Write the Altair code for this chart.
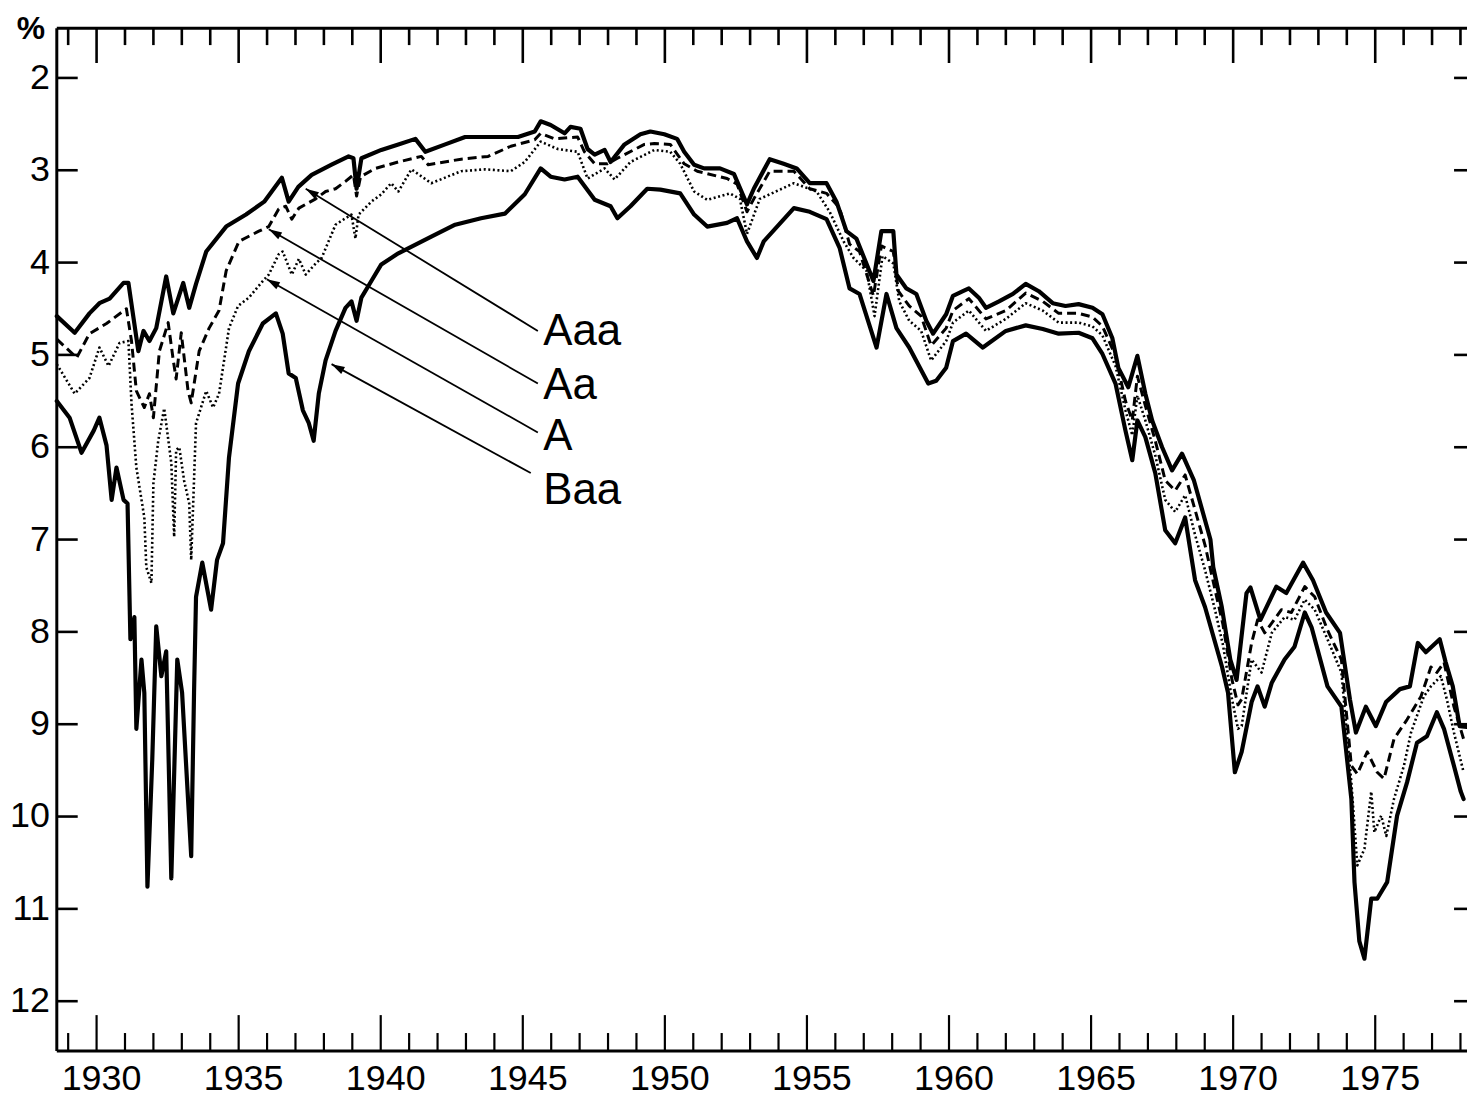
import altair as alt
import pandas as pd

# ---------------- data ----------------
aaa_year = [1928.6, 1929.23, 1929.75, 1930.1, 1930.46, 1930.95, 1931.12, 1931.3, 1931.47, 1931.65,
            1931.86, 1932.1, 1932.45, 1932.7, 1933.05, 1933.26, 1933.5, 1933.86, 1934.56, 1935.26,
            1935.9, 1936.52, 1936.76, 1937.1, 1937.57, 1938.27, 1938.87, 1939.04, 1939.15, 1939.32,
            1940.02, 1940.62, 1941.22, 1941.57, 1942.27, 1942.97, 1944.02, 1944.83, 1945.42, 1945.63,
            1945.98, 1946.47, 1946.68, 1947.03, 1947.28, 1947.53, 1947.88, 1948.09, 1948.58, 1949.14,
            1949.49, 1949.98, 1950.43, 1950.68, 1951.03, 1951.38, 1951.94, 1952.43, 1952.89, 1953.13,
            1953.69, 1954.18, 1954.64, 1955.1, 1955.69, 1956.04, 1956.39, 1956.74, 1957.34, 1957.62,
            1958.04, 1958.15, 1958.5, 1958.85, 1959.2, 1959.44, 1959.9, 1960.14, 1960.49, 1960.7,
            1961.05, 1961.3, 1961.76, 1962.25, 1962.7, 1963.16, 1963.65, 1964.1, 1964.56, 1965.05,
            1965.4, 1965.75, 1965.96, 1966.31, 1966.63, 1966.91, 1967.15, 1967.5, 1967.85, 1968.2,
            1968.62, 1969.2, 1969.3, 1969.6, 1969.9, 1970.12, 1970.47, 1970.61, 1970.96, 1971.52,
            1971.87, 1972.46, 1972.81, 1973.27, 1973.76, 1974.11, 1974.32, 1974.67, 1975.02, 1975.38,
            1975.87, 1976.22, 1976.5, 1976.78, 1977.27, 1977.48, 1977.73, 1977.97, 1978.23]
aaa_yield = [4.58, 4.76, 4.55, 4.44, 4.39, 4.22, 4.22, 4.60, 4.96, 4.74,
             4.85, 4.71, 4.15, 4.55, 4.22, 4.49, 4.23, 3.88, 3.61, 3.48,
             3.34, 3.08, 3.34, 3.18, 3.05, 2.94, 2.85, 2.87, 3.20, 2.87,
             2.78, 2.72, 2.66, 2.80, 2.72, 2.64, 2.64, 2.64, 2.58, 2.47,
             2.51, 2.60, 2.53, 2.55, 2.77, 2.83, 2.78, 2.91, 2.72, 2.61,
             2.58, 2.61, 2.66, 2.80, 2.94, 2.98, 2.98, 3.04, 3.37, 3.20,
             2.88, 2.93, 2.98, 3.14, 3.14, 3.34, 3.66, 3.74, 4.20, 3.66,
             3.66, 4.13, 4.28, 4.34, 4.63, 4.77, 4.56, 4.36, 4.31, 4.28,
             4.38, 4.49, 4.42, 4.34, 4.23, 4.31, 4.44, 4.47, 4.45, 4.49,
             4.56, 4.82, 5.14, 5.35, 5.01, 5.42, 5.71, 6.00, 6.25, 6.07,
             6.36, 7.00, 7.30, 7.73, 8.30, 8.52, 7.58, 7.52, 7.87, 7.51,
             7.58, 7.25, 7.44, 7.79, 8.01, 8.73, 9.09, 8.81, 9.02, 8.76,
             8.62, 8.59, 8.12, 8.22, 8.08, 8.33, 8.59, 9.02, 9.03]

aa_year = [1928.6, 1929.3, 1929.75, 1930.35, 1931.05, 1931.23, 1931.4, 1931.68, 1931.86, 1932.0,
           1932.21, 1932.52, 1932.7, 1932.8, 1932.98, 1933.22, 1933.33, 1933.61, 1933.96, 1934.31,
           1934.56, 1935.01, 1935.71, 1936.06, 1936.41, 1936.66, 1936.87, 1937.12, 1937.71, 1938.06,
           1938.41, 1938.76, 1939.04, 1939.15, 1939.29, 1939.81, 1940.62, 1941.43, 1941.67, 1942.83,
           1943.78, 1944.58, 1945.42, 1945.63, 1946.12, 1946.93, 1947.17, 1947.53, 1947.98, 1948.33,
           1949.28, 1949.63, 1950.19, 1950.68, 1951.14, 1952.19, 1952.54, 1952.89, 1953.13, 1953.69,
           1954.54, 1955.1, 1955.69, 1956.15, 1956.5, 1956.85, 1957.34, 1957.62, 1958.04, 1958.22,
           1958.6, 1959.02, 1959.37, 1959.9, 1960.14, 1960.7, 1961.3, 1962.0, 1962.7, 1963.3,
           1963.86, 1964.56, 1965.05, 1965.4, 1965.86, 1966.21, 1966.45, 1966.63, 1966.91, 1967.26,
           1967.61, 1967.96, 1968.31, 1968.66, 1969.01, 1969.36, 1969.64, 1969.96, 1970.17, 1970.3,
           1970.65, 1970.86, 1971.11, 1971.7, 1972.05, 1972.52, 1972.87, 1973.32, 1973.81, 1974.16,
           1974.37, 1974.72, 1975.07, 1975.31, 1975.66, 1976.12, 1976.61, 1976.96, 1977.17, 1977.42,
           1977.77, 1978.11]
aa_yield = [4.83, 5.03, 4.77, 4.66, 4.50, 4.85, 5.39, 5.57, 5.42, 5.68,
            4.96, 4.65, 5.06, 5.26, 4.76, 5.39, 5.52, 4.96, 4.71, 4.52,
            4.09, 3.77, 3.66, 3.61, 3.42, 3.39, 3.53, 3.41, 3.31, 3.23,
            3.20, 3.12, 3.05, 3.28, 3.07, 2.98, 2.91, 2.85, 2.94, 2.88,
            2.85, 2.74, 2.67, 2.60, 2.66, 2.64, 2.80, 2.93, 2.93, 2.87,
            2.72, 2.71, 2.72, 2.93, 3.01, 3.09, 3.15, 3.45, 3.31, 3.01,
            3.01, 3.20, 3.25, 3.41, 3.80, 3.88, 4.36, 3.82, 3.88, 4.31,
            4.47, 4.58, 4.90, 4.71, 4.52, 4.39, 4.61, 4.52, 4.33, 4.42,
            4.55, 4.55, 4.59, 4.69, 5.01, 5.50, 5.71, 5.23, 5.55, 5.93,
            6.36, 6.47, 6.30, 6.68, 7.06, 7.54, 7.92, 8.52, 8.79, 8.73,
            8.12, 7.87, 8.01, 7.76, 7.79, 7.51, 7.62, 7.98, 8.30, 9.45,
            9.54, 9.30, 9.52, 9.59, 9.16, 8.95, 8.70, 8.38, 8.44, 8.33,
            8.81, 9.16]

a_year = [1928.6, 1929.23, 1929.75, 1930.1, 1930.42, 1930.81, 1931.12, 1931.23, 1931.4, 1931.68,
          1931.75, 1931.93, 1932.0, 1932.17, 1932.38, 1932.63, 1932.73, 1932.8, 1932.91, 1933.08,
          1933.26, 1933.33, 1933.5, 1933.86, 1934.1, 1934.31, 1934.66, 1934.98, 1935.36, 1935.85,
          1936.06, 1936.41, 1936.55, 1936.87, 1937.12, 1937.36, 1937.71, 1937.92, 1938.41, 1938.76,
          1938.97, 1939.11, 1939.22, 1939.67, 1940.02, 1940.37, 1940.62, 1941.08, 1941.78, 1942.83,
          1943.67, 1944.58, 1945.07, 1945.63, 1946.23, 1946.93, 1947.28, 1947.88, 1948.23, 1948.79,
          1949.63, 1950.19, 1950.54, 1951.03, 1951.49, 1952.29, 1952.64, 1952.89, 1953.34, 1954.54,
          1955.34, 1955.8, 1956.29, 1956.64, 1957.1, 1957.38, 1957.66, 1958.04, 1958.25, 1958.6,
          1959.02, 1959.37, 1959.9, 1960.14, 1960.7, 1961.3, 1962.0, 1962.7, 1963.3, 1963.86,
          1964.56, 1965.05, 1965.4, 1965.86, 1966.21, 1966.45, 1966.63, 1966.91, 1967.26, 1967.61,
          1967.96, 1968.31, 1968.66, 1969.01, 1969.36, 1969.64, 1969.96, 1970.17, 1970.3, 1970.65,
          1971.0, 1971.36, 1971.81, 1972.16, 1972.52, 1972.87, 1973.32, 1973.81, 1974.16, 1974.37,
          1974.62, 1974.86, 1974.97, 1975.21, 1975.39, 1975.66, 1976.01, 1976.26, 1976.71, 1976.96,
          1977.31, 1977.52, 1977.77, 1978.11]
a_yield = [5.10, 5.42, 5.25, 4.92, 5.12, 4.87, 4.85, 5.53, 6.22, 6.76,
           7.30, 7.47, 6.39, 5.93, 5.58, 6.17, 6.97, 6.03, 6.00, 6.36,
           6.61, 7.22, 5.74, 5.39, 5.57, 5.42, 4.71, 4.47, 4.38, 4.20,
           4.13, 3.91, 3.88, 4.13, 3.96, 4.13, 4.01, 3.95, 3.59, 3.52,
           3.48, 3.74, 3.48, 3.34, 3.26, 3.14, 3.23, 2.99, 3.14, 3.01,
           2.99, 3.01, 2.91, 2.69, 2.77, 2.80, 3.09, 2.98, 3.10, 2.91,
           2.78, 2.80, 2.93, 3.23, 3.32, 3.25, 3.31, 3.69, 3.31, 3.14,
           3.23, 3.45, 3.77, 3.95, 4.09, 4.58, 3.93, 4.01, 4.42, 4.63,
           4.74, 5.06, 4.85, 4.65, 4.52, 4.74, 4.61, 4.44, 4.52, 4.65,
           4.65, 4.69, 4.79, 5.12, 5.60, 5.87, 5.44, 5.71, 6.09, 6.57,
           6.70, 6.52, 6.95, 7.33, 7.76, 8.14, 8.73, 9.05, 9.02, 8.30,
           8.44, 8.01, 7.84, 7.87, 7.65, 7.76, 8.08, 8.44, 9.63, 10.53,
           10.35, 9.73, 10.17, 9.99, 10.21, 9.81, 9.45, 9.09, 8.70, 8.59,
           8.48, 8.73, 9.09, 9.52]

baa_year = [1928.6, 1929.05, 1929.47, 1929.9, 1930.1, 1930.35, 1930.53, 1930.7, 1930.95, 1931.09,
            1931.19, 1931.33, 1931.4, 1931.58, 1931.68, 1931.79, 1931.96, 1932.1, 1932.28, 1932.45,
            1932.63, 1932.84, 1933.01, 1933.33, 1933.43, 1933.5, 1933.72, 1934.03, 1934.24, 1934.45,
            1934.66, 1934.98, 1935.36, 1935.85, 1936.31, 1936.55, 1936.76, 1937.01, 1937.26, 1937.47,
            1937.64, 1937.82, 1938.06, 1938.41, 1938.76, 1938.97, 1939.15, 1939.32, 1939.67, 1940.02,
            1940.62, 1941.78, 1942.62, 1943.53, 1944.37, 1945.07, 1945.63, 1945.98, 1946.47, 1946.93,
            1947.53, 1948.09, 1948.33, 1948.79, 1949.38, 1949.84, 1950.54, 1951.03, 1951.49, 1952.19,
            1952.54, 1952.89, 1953.24, 1953.48, 1954.54, 1955.1, 1955.69, 1956.15, 1956.5, 1956.85,
            1957.45, 1957.8, 1958.15, 1958.6, 1959.27, 1959.55, 1959.9, 1960.14, 1960.6, 1961.19,
            1962.0, 1962.7, 1963.3, 1963.86, 1964.56, 1965.05, 1965.4, 1965.86, 1966.21, 1966.45,
            1966.63, 1966.91, 1967.26, 1967.61, 1967.96, 1968.31, 1968.66, 1969.01, 1969.61, 1969.82,
            1970.06, 1970.3, 1970.65, 1970.86, 1971.11, 1971.36, 1971.81, 1972.16, 1972.52, 1972.76,
            1973.32, 1973.81, 1974.16, 1974.27, 1974.44, 1974.62, 1974.86, 1975.07, 1975.42, 1975.77,
            1976.12, 1976.47, 1976.82, 1977.17, 1977.42, 1977.77, 1978.01, 1978.11]
baa_yield = [5.50, 5.68, 6.06, 5.82, 5.68, 5.98, 6.57, 6.22, 6.57, 6.61,
             8.08, 7.84, 9.05, 8.30, 8.66, 10.76, 9.38, 7.94, 8.48, 8.21,
             10.67, 8.30, 8.66, 10.43, 8.66, 7.62, 7.25, 7.76, 7.22, 7.04,
             6.11, 5.31, 4.96, 4.66, 4.55, 4.77, 5.20, 5.25, 5.60, 5.74,
             5.93, 5.42, 5.06, 4.74, 4.49, 4.42, 4.63, 4.38, 4.20, 4.02,
             3.90, 3.72, 3.59, 3.52, 3.47, 3.26, 2.98, 3.07, 3.10, 3.07,
             3.32, 3.39, 3.52, 3.39, 3.20, 3.21, 3.25, 3.48, 3.61, 3.57,
             3.52, 3.77, 3.95, 3.77, 3.41, 3.45, 3.53, 3.84, 4.28, 4.34,
             4.92, 4.34, 4.71, 4.92, 5.31, 5.28, 5.14, 4.85, 4.77, 4.92,
             4.74, 4.68, 4.72, 4.77, 4.76, 4.82, 4.99, 5.31, 5.82, 6.14,
             5.71, 5.89, 6.28, 6.90, 7.04, 6.76, 7.44, 7.73, 8.38, 8.66,
             9.52, 9.30, 8.76, 8.59, 8.81, 8.55, 8.30, 8.16, 7.79, 7.95,
             8.59, 8.81, 9.81, 10.71, 11.35, 11.54, 10.89, 10.89, 10.71, 9.99,
             9.63, 9.20, 9.13, 8.87, 9.05, 9.45, 9.73, 9.81]

major_years = [1930, 1935, 1940, 1945, 1950, 1955, 1960, 1965, 1970, 1975]
minor_years = [y for y in range(1929, 1979) if y % 5 != 0]
y_tick_values = [2, 3, 4, 5, 6, 7, 8, 9, 10, 11, 12]

# labels and leader arrows (data coordinates)
label_names = ["Aaa", "Aa", "A", "Baa"]
label_year = [1945.72, 1945.72, 1945.72, 1945.72]
label_yield = [4.75, 5.34, 5.89, 6.47]
arrow_from_year = [1945.53, 1945.53, 1945.53, 1945.28]
arrow_from_yield = [4.74, 5.31, 5.84, 6.28]
arrow_to_year = [1937.36, 1936.06, 1935.99, 1938.27]
arrow_to_yield = [3.20, 3.64, 4.18, 5.10]
arrow_angle = [301.5, 299.9, 299.5, 298.8]

# ---------------- build tables ----------------
rows = []
for name, yrs, vals in [("Aaa", aaa_year, aaa_yield), ("Aa", aa_year, aa_yield),
                        ("A", a_year, a_yield), ("Baa", baa_year, baa_yield)]:
    for yr, v in zip(yrs, vals):
        rows.append({"series": name, "year": yr, "yield": v})
df = pd.DataFrame(rows)

W, H = 1416, 1027
FONT = "Liberation Sans"

x_scale = alt.Scale(domain=[1928.6, 1978.23], nice=False, zero=False)
y_scale = alt.Scale(domain=[1.461, 12.539], reverse=True, nice=False, zero=False)

base = alt.Chart(df)


def series_layer(name, width, dash=None):
    kw = dict(strokeWidth=width, color="black", strokeJoin="round")
    if dash:
        kw["strokeDash"] = dash
        kw["strokeCap"] = "butt"
    else:
        kw["strokeCap"] = "round"
    return base.transform_filter(alt.datum.series == name).mark_line(**kw).encode(
        x=alt.X("year:Q", scale=x_scale, axis=None),
        y=alt.Y("yield:Q", scale=y_scale, axis=None),
        order="year:Q")


lines = [
    series_layer("Aaa", 4.2),
    series_layer("Aa", 3.0, dash=[9, 5]),
    series_layer("A", 2.6, dash=[2, 2.6]),
    series_layer("Baa", 4.2),
]

# ---------------- frame, inward ticks, tick labels ----------------
one = pd.DataFrame({"k": [0]})
frame = [
    alt.Chart(one).mark_rule(color="black", strokeWidth=3).encode(
        x=alt.value(0), x2=alt.value(W), y=alt.value(0)),
    alt.Chart(one).mark_rule(color="black", strokeWidth=3).encode(
        x=alt.value(0), x2=alt.value(W), y=alt.value(H)),
    alt.Chart(one).mark_rule(color="black", strokeWidth=3).encode(
        x=alt.value(0), y=alt.value(0), y2=alt.value(H)),
]

maj = pd.DataFrame({"yr": major_years})
mnr = pd.DataFrame({"yr": minor_years})
yt = pd.DataFrame({"v": y_tick_values})

ticks = [
    alt.Chart(maj).mark_rule(color="black", strokeWidth=2.6).encode(
        x=alt.X("yr:Q", scale=x_scale, axis=None), y=alt.value(0), y2=alt.value(35)),
    alt.Chart(mnr).mark_rule(color="black", strokeWidth=2.6).encode(
        x=alt.X("yr:Q", scale=x_scale, axis=None), y=alt.value(0), y2=alt.value(17)),
    alt.Chart(maj).mark_rule(color="black", strokeWidth=2.2).encode(
        x=alt.X("yr:Q", scale=x_scale, axis=None), y=alt.value(H), y2=alt.value(H - 36)),
    alt.Chart(mnr).mark_rule(color="black", strokeWidth=2.2).encode(
        x=alt.X("yr:Q", scale=x_scale, axis=None), y=alt.value(H), y2=alt.value(H - 18)),
    alt.Chart(yt).mark_rule(color="black", strokeWidth=2.6).encode(
        y=alt.Y("v:Q", scale=y_scale, axis=None), x=alt.value(0), x2=alt.value(21)),
    alt.Chart(yt).mark_rule(color="black", strokeWidth=2.6).encode(
        y=alt.Y("v:Q", scale=y_scale, axis=None), x=alt.value(W - 13), x2=alt.value(W)),
]

x_labels = alt.Chart(maj).mark_text(
    fontSize=36, font=FONT, color="black", align="center", baseline="alphabetic", dx=5
).encode(
    x=alt.X("yr:Q", scale=x_scale, axis=None), y=alt.value(H + 39),
    text=alt.Text("yr:Q", format="d"))

y_labels = alt.Chart(yt).mark_text(
    fontSize=36, font=FONT, color="black", align="right", baseline="middle"
).encode(
    y=alt.Y("v:Q", scale=y_scale, axis=None), x=alt.value(-7),
    text=alt.Text("v:Q", format="d"))

# ---------------- annotations ----------------
ann = pd.DataFrame({
    "name": label_names, "ly": label_year, "lv": label_yield,
    "fy": arrow_from_year, "fv": arrow_from_yield,
    "ty": arrow_to_year, "tv": arrow_to_yield, "ang": arrow_angle,
})

arrow_lines = alt.Chart(ann).mark_rule(color="black", strokeWidth=1.8).encode(
    x=alt.X("fy:Q", scale=x_scale, axis=None), y=alt.Y("fv:Q", scale=y_scale, axis=None),
    x2="ty:Q", y2="tv:Q")

arrow_heads = alt.Chart(ann).mark_point(
    shape="M0,0L-0.3,1L0.3,1Z", filled=True, color="black", opacity=1, size=700
).encode(
    x=alt.X("ty:Q", scale=x_scale, axis=None), y=alt.Y("tv:Q", scale=y_scale, axis=None),
    angle=alt.Angle("ang:Q", scale=None))

label_text = alt.Chart(ann).mark_text(
    align="left", baseline="middle", fontSize=44, font=FONT, color="black"
).encode(
    x=alt.X("ly:Q", scale=x_scale, axis=None), y=alt.Y("lv:Q", scale=y_scale, axis=None),
    text="name:N")

pct = alt.Chart(one).mark_text(
    text="%", fontSize=32, font=FONT, fontWeight="bold", color="black",
    align="center", baseline="alphabetic"
).encode(x=alt.value(-26), y=alt.value(11))

chart = alt.layer(
    *lines, *frame, *ticks, x_labels, y_labels, arrow_lines, arrow_heads, label_text, pct
).properties(
    width=W, height=H,
    padding={"left": 49, "top": 18, "right": 0, "bottom": 48},
    autosize=alt.AutoSizeParams(type="none"),
    background="white",
).configure_view(strokeWidth=0)

chart.save("out.html", embed_options={"renderer": "svg", "actions": False})
